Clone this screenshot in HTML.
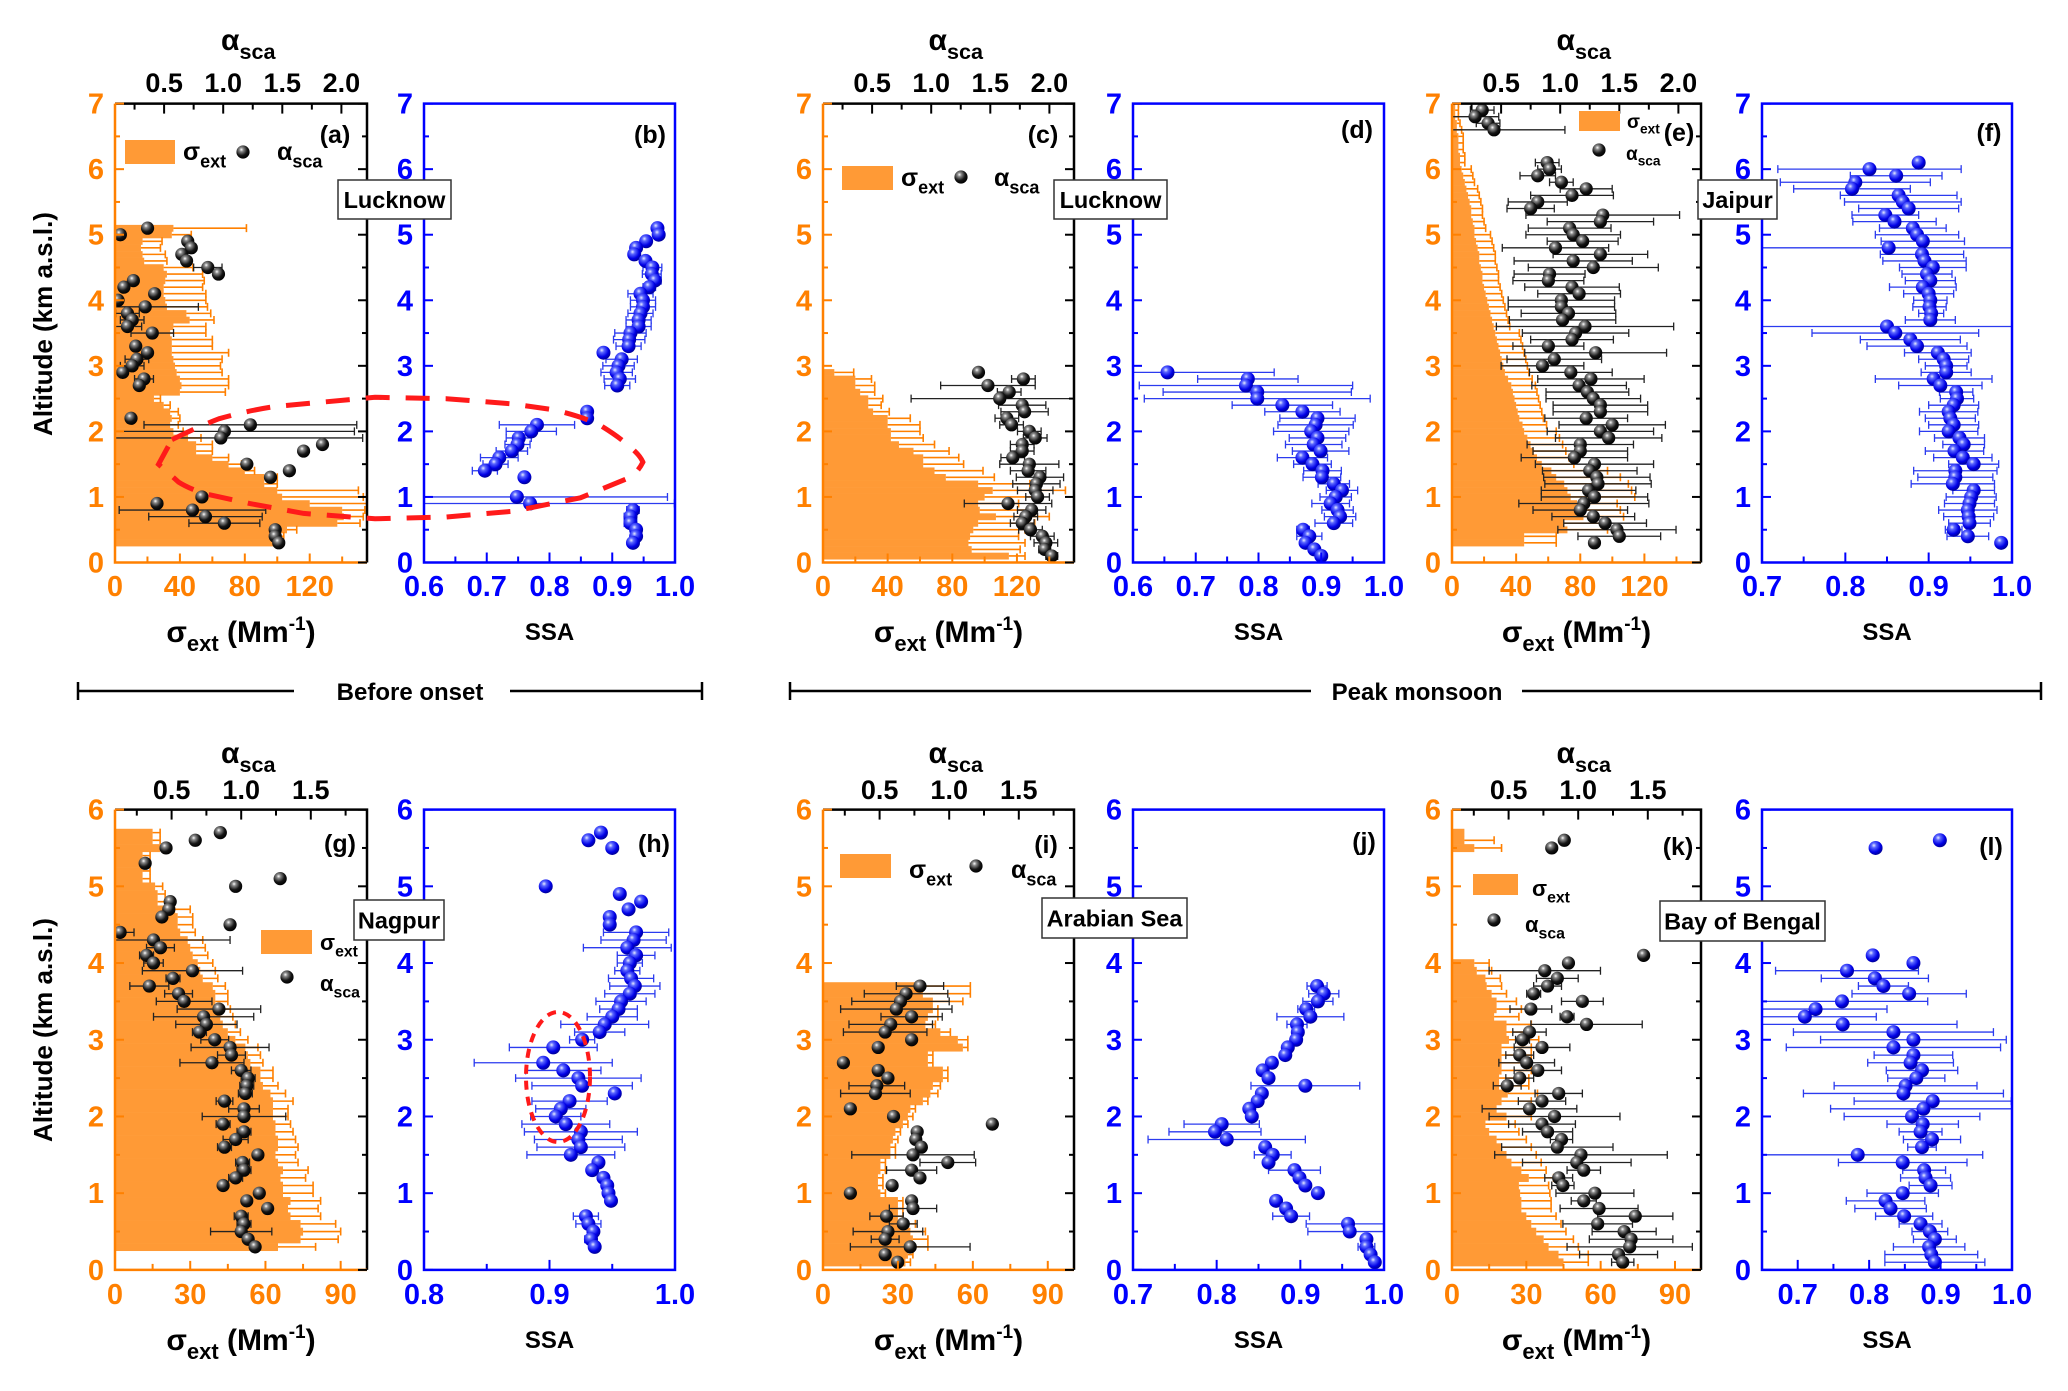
<!DOCTYPE html>
<html><head><meta charset="utf-8"><title>Vertical profiles of aerosol extinction, Ångström exponent and SSA</title>
<style>
html,body{margin:0;padding:0;background:#fff;}
svg{display:block;font-family:"Liberation Sans",Arial,sans-serif;}
</style></head>
<body>
<svg id="fig" xmlns="http://www.w3.org/2000/svg" width="2068" height="1391" viewBox="0 0 2068 1391">
<defs>
<radialGradient id="gk" cx="0.38" cy="0.32" r="0.68"><stop offset="0" stop-color="#ffffff"/><stop offset="0.22" stop-color="#8a8a8a"/><stop offset="0.65" stop-color="#151515"/><stop offset="1" stop-color="#000"/></radialGradient>
<radialGradient id="gb" cx="0.38" cy="0.32" r="0.68"><stop offset="0" stop-color="#e8ecff"/><stop offset="0.25" stop-color="#5a66ff"/><stop offset="0.7" stop-color="#0000e6"/><stop offset="1" stop-color="#00009a"/></radialGradient>
</defs>
<rect x="0" y="0" width="2068" height="1391" fill="#fff"/>
</svg>
<script>
// ---------- tick labels ----------
const sigTicksTop = [0, 40, 80, 120];
const sigTicksBot = [0, 30, 60, 90];
const alphaTicksTop = [0.5, 1.0, 1.5, 2.0];
const alphaTicksBot = [0.5, 1.0, 1.5];
const ssaTicksBD = [0.6, 0.7, 0.8, 0.9, 1.0];
const ssaTicksFJ = [0.7, 0.8, 0.9, 1.0];
const ssaTicksH = [0.8, 0.9, 1.0];
const ssaTicksL = [0.7, 0.8, 0.9, 1.0];
const altTicksTop = [0, 1, 2, 3, 4, 5, 6, 7];
const altTicksBot = [0, 1, 2, 3, 4, 5, 6];

// ---------- data: [altitude km, value, error] ----------
const sigA = [[0.3,98,5],[0.4,99,5],[0.5,106,6],[0.6,137,14],[0.7,141,12],[0.8,140,14],[0.9,120,40],[1.0,103,50],[1.1,100,50],[1.2,92,8],[1.3,92,8],[1.4,80,6],[1.5,70,8],[1.6,60,10],[1.7,50,10],[1.8,50,10],[1.9,45,8],[2.0,36,6],[2.1,34,5],[2.2,35,5],[2.3,34,5],[2.4,30,4],[2.5,24,4],[2.6,40,28],[2.7,41,29],[2.8,40,30],[2.9,38,28],[3.0,37,28],[3.1,36,30],[3.2,35,35],[3.3,35,25],[3.4,35,25],[3.5,34,22],[3.6,36,20],[3.7,46,15],[3.8,44,15],[3.9,32,25],[4.0,31,25],[4.1,30,26],[4.2,30,24],[4.3,31,24],[4.4,32,22],[4.5,30,18],[4.6,18,14],[4.7,17,14],[4.8,16,12],[4.9,17,12],[5.0,35,12],[5.1,36,45]];
const alphaA = [[5.1,0.36,0],[5.0,0.13,0],[4.9,0.70,0],[4.8,0.73,0],[4.7,0.65,0],[4.6,0.69,0],[4.5,0.87,0.12],[4.4,0.96,0],[4.3,0.24,0],[4.2,0.16,0],[4.1,0.42,0],[4.0,0.11,0],[3.9,0.34,0.45],[3.8,0.19,0.1],[3.7,0.23,0.1],[3.6,0.19,0.12],[3.5,0.40,0.18],[3.3,0.26,0],[3.2,0.36,0],[3.1,0.27,0.1],[3.0,0.23,0.1],[2.9,0.15,0],[2.8,0.33,0.08],[2.7,0.29,0],[2.2,0.22,0],[2.1,1.23,0.9],[2.0,1.01,1.1],[1.9,0.98,1.2],[1.8,1.84,0],[1.7,1.68,0],[1.5,1.20,0],[1.4,1.56,0],[1.3,1.40,0],[1.0,0.82,0],[0.9,0.44,0],[0.8,0.74,0.62],[0.7,0.85,0.48],[0.6,1.01,0.3],[0.5,1.44,0],[0.4,1.44,0],[0.3,1.47,0]];
const ssaB = [[5.1,0.972,0],[5.0,0.974,0],[4.9,0.954,0],[4.8,0.938,0],[4.7,0.935,0],[4.6,0.953,0],[4.5,0.964,0.015],[4.4,0.963,0.015],[4.3,0.968,0.01],[4.2,0.959,0.01],[4.1,0.945,0.02],[4.0,0.949,0.02],[3.9,0.949,0.02],[3.8,0.945,0.02],[3.7,0.942,0.02],[3.6,0.942,0.02],[3.5,0.929,0.025],[3.4,0.927,0.025],[3.3,0.926,0.02],[3.2,0.886,0],[3.1,0.915,0.025],[3.0,0.910,0.025],[2.9,0.907,0.025],[2.8,0.912,0.025],[2.7,0.908,0.02],[2.3,0.860,0],[2.2,0.860,0],[2.1,0.780,0.06],[2.0,0.771,0.04],[1.9,0.751,0.02],[1.8,0.749,0.02],[1.7,0.740,0.025],[1.6,0.720,0.03],[1.5,0.714,0.02],[1.4,0.697,0.02],[1.3,0.760,0],[1.0,0.748,0.24],[0.9,0.769,0.23],[0.8,0.933,0.01],[0.7,0.929,0.01],[0.6,0.929,0.01],[0.5,0.938,0],[0.4,0.938,0],[0.3,0.933,0]];

const sigC = [[0.1,115,10],[0.2,92,30],[0.3,90,35],[0.4,91,30],[0.5,93,32],[0.6,96,35],[0.7,107,33],[0.8,97,30],[0.9,96,25],[1.0,100,35],[1.1,105,45],[1.2,96,32],[1.3,76,30],[1.4,69,30],[1.5,62,25],[1.6,62,22],[1.7,56,22],[1.8,47,22],[1.9,42,20],[2.0,42,18],[2.1,40,20],[2.2,40,14],[2.3,31,10],[2.4,28,8],[2.5,28,9],[2.6,23,9],[2.7,20,12],[2.8,20,10],[2.9,7,12]];
const alphaC = [[2.9,1.40,0],[2.8,1.78,0.1],[2.7,1.48,0.4],[2.6,1.66,0.1],[2.5,1.58,0.75],[2.4,1.77,0.2],[2.3,1.79,0.2],[2.2,1.64,0.1],[2.1,1.68,0.1],[2.0,1.83,0.1],[1.9,1.88,0.1],[1.8,1.77,0.1],[1.7,1.77,0.1],[1.6,1.69,0.1],[1.5,1.83,0.25],[1.4,1.82,0.15],[1.3,1.92,0.2],[1.2,1.89,0.2],[1.1,1.88,0.15],[1.0,1.90,0.1],[0.9,1.65,0.37],[0.8,1.85,0.12],[0.7,1.80,0.1],[0.6,1.77,0.1],[0.5,1.84,0.1],[0.4,1.94,0.1],[0.3,1.97,0.1],[0.2,1.96,0.05],[0.1,2.02,0.05]];
const ssaD = [[2.9,0.655,0.17],[2.8,0.783,0.08],[2.7,0.780,0.17],[2.6,0.798,0.15],[2.5,0.798,0.18],[2.4,0.838,0.08],[2.3,0.870,0.06],[2.2,0.894,0.06],[2.1,0.891,0.06],[2.0,0.884,0.06],[1.9,0.894,0.045],[1.8,0.888,0.045],[1.7,0.899,0.045],[1.6,0.870,0.04],[1.5,0.886,0.03],[1.4,0.902,0.03],[1.3,0.901,0.03],[1.2,0.920,0.025],[1.1,0.933,0.025],[1.0,0.923,0.025],[0.9,0.915,0.03],[0.8,0.926,0.025],[0.7,0.930,0.025],[0.6,0.920,0.03],[0.5,0.871,0.01],[0.4,0.881,0.02],[0.3,0.875,0],[0.2,0.889,0],[0.1,0.900,0]];

const sigE = [[0.3,45,20],[0.4,45,20],[0.5,72,25],[0.6,70,25],[0.7,82,25],[0.8,80,25],[0.9,78,25],[1.0,74,40],[1.1,72,40],[1.2,70,40],[1.3,65,40],[1.4,62,35],[1.5,56,20],[1.6,53,20],[1.7,51,20],[1.8,49,20],[1.9,47,20],[2.0,45,20],[2.1,44,15],[2.2,42,15],[2.3,41,15],[2.4,40,15],[2.5,39,15],[2.6,38,15],[2.7,37,15],[2.8,35,15],[2.9,33,15],[3.0,32,15],[3.1,31,15],[3.2,30,15],[3.3,29,15],[3.4,28,15],[3.5,27,15],[3.6,26,10],[3.7,25,10],[3.8,24,10],[3.9,23,10],[4.0,22,10],[4.1,21,10],[4.2,20,10],[4.3,19,10],[4.4,19,10],[4.5,18,10],[4.6,17,10],[4.7,17,10],[4.8,16,10],[4.9,15,10],[5.0,14,10],[5.1,14,7],[5.2,13,7],[5.3,12,7],[5.4,12,7],[5.5,11,7],[5.6,10,7],[5.7,9,7],[5.8,8,6],[5.9,7,6],[6.0,6,6],[6.1,5,3],[6.2,5,3],[6.3,4,3],[6.4,4,3],[6.5,4,3],[6.6,3,3],[6.7,3,2],[6.8,2,2],[6.9,2,2],[7.0,2,2]];
const alphaE = [[6.9,0.34,0.1],[6.8,0.28,0.2],[6.7,0.39,0.1],[6.6,0.44,0.6],[6.1,0.89,0.1],[6.0,0.91,0.1],[5.9,0.81,0.15],[5.8,1.01,0.1],[5.7,1.22,0.22],[5.6,1.10,0.35],[5.5,0.81,0.25],[5.4,0.75,0.2],[5.3,1.36,0.65],[5.2,1.34,0.45],[5.1,1.08,0.35],[5.0,1.11,0.4],[4.9,1.19,0.3],[4.8,0.96,0.45],[4.7,1.34,0.4],[4.6,1.11,0.5],[4.5,1.28,0.55],[4.4,0.91,0.3],[4.3,0.90,0.3],[4.2,1.10,0.4],[4.1,1.16,0.35],[4.0,1.01,0.45],[3.9,1.01,0.45],[3.8,1.07,0.4],[3.7,1.02,0.45],[3.6,1.21,0.75],[3.5,1.13,0.45],[3.4,1.10,0.35],[3.3,0.90,0.3],[3.2,1.30,0.6],[3.1,0.95,0.4],[3.0,0.85,0.35],[2.9,1.09,0.35],[2.8,1.26,0.45],[2.7,1.16,0.4],[2.6,1.23,0.35],[2.5,1.28,0.4],[2.4,1.34,0.4],[2.3,1.34,0.4],[2.2,1.22,0.35],[2.1,1.44,0.45],[2.0,1.34,0.45],[1.9,1.41,0.45],[1.8,1.17,0.45],[1.7,1.17,0.4],[1.6,1.12,0.45],[1.5,1.29,0.5],[1.4,1.25,0.4],[1.3,1.31,0.45],[1.2,1.32,0.45],[1.1,1.24,0.4],[1.0,1.29,0.45],[0.9,1.20,0.55],[0.8,1.17,0.4],[0.7,1.28,0.35],[0.6,1.38,0.35],[0.5,1.48,0.5],[0.4,1.50,0.35],[0.3,1.29,0]];
const ssaF = [[6.1,0.888,0],[6.0,0.829,0.11],[5.9,0.861,0.055],[5.8,0.812,0.09],[5.7,0.808,0.07],[5.6,0.864,0.07],[5.5,0.869,0.07],[5.4,0.876,0.06],[5.3,0.848,0.04],[5.2,0.859,0.05],[5.1,0.881,0.04],[5.0,0.886,0.05],[4.9,0.893,0.05],[4.8,0.852,0.3],[4.7,0.892,0.05],[4.6,0.895,0.05],[4.5,0.905,0.04],[4.4,0.898,0.03],[4.3,0.902,0.03],[4.2,0.893,0.04],[4.1,0.900,0.03],[4.0,0.902,0.02],[3.9,0.901,0.02],[3.8,0.903,0.015],[3.7,0.902,0.03],[3.6,0.850,0.3],[3.5,0.860,0.1],[3.4,0.878,0.06],[3.3,0.886,0.06],[3.2,0.911,0.04],[3.1,0.918,0.03],[3.0,0.921,0.025],[2.9,0.921,0.03],[2.8,0.906,0.07],[2.7,0.914,0.05],[2.6,0.933,0.02],[2.5,0.934,0.02],[2.4,0.930,0.03],[2.3,0.924,0.035],[2.2,0.926,0.03],[2.1,0.930,0.03],[2.0,0.924,0.035],[1.9,0.937,0.03],[1.8,0.942,0.025],[1.7,0.931,0.035],[1.6,0.941,0.035],[1.5,0.954,0.03],[1.4,0.932,0.05],[1.3,0.932,0.045],[1.2,0.929,0.05],[1.1,0.954,0.025],[1.0,0.951,0.03],[0.9,0.949,0.03],[0.8,0.947,0.035],[0.7,0.948,0.03],[0.6,0.949,0.025],[0.5,0.930,0.01],[0.4,0.947,0.025],[0.3,0.987,0]];

const sigG = [[0.3,65,15],[0.4,74,15],[0.5,75,15],[0.6,74,14],[0.7,70,12],[0.8,69,12],[0.9,70,12],[1.0,67,12],[1.1,67,12],[1.2,66,10],[1.3,67,10],[1.4,65,8],[1.5,64,8],[1.6,65,8],[1.7,65,7],[1.8,64,7],[1.9,64,6],[2.0,63,6],[2.1,63,6],[2.2,63,8],[2.3,62,6],[2.4,59,6],[2.5,58,5],[2.6,58,5],[2.7,54,5],[2.8,53,5],[2.9,52,5],[3.0,48,5],[3.1,45,5],[3.2,43,5],[3.3,42,5],[3.4,41,5],[3.5,40,5],[3.6,40,5],[3.7,39,5],[3.8,35,6],[3.9,34,6],[4.0,33,6],[4.1,31,6],[4.2,30,6],[4.3,29,6],[4.4,26,6],[4.5,25,6],[4.6,25,6],[4.7,24,6],[4.8,17,3],[4.9,17,3],[5.0,16,3],[5.1,11,3],[5.2,11,3],[5.3,10,3],[5.4,11,3],[5.5,18,3],[5.6,15,3],[5.7,15,3]];
const alphaG = [[5.7,0.85,0],[5.6,0.67,0],[5.5,0.46,0],[5.3,0.31,0],[5.1,1.28,0],[5.0,0.96,0],[4.8,0.49,0],[4.7,0.48,0],[4.6,0.43,0],[4.5,0.92,0],[4.4,0.13,0.1],[4.3,0.37,0.55],[4.2,0.42,0.1],[4.1,0.32,0.05],[4.0,0.37,0.07],[3.9,0.65,0.36],[3.8,0.51,0.05],[3.7,0.34,0.14],[3.6,0.55,0.1],[3.5,0.59,0.2],[3.4,0.84,0.3],[3.3,0.73,0.36],[3.2,0.75,0.22],[3.1,0.70,0.05],[3.0,0.81,0.1],[2.9,0.92,0.28],[2.8,0.93,0.1],[2.7,0.79,0.23],[2.6,1.00,0.07],[2.5,1.05,0.05],[2.4,1.04,0.05],[2.3,1.03,0.05],[2.2,0.88,0.06],[2.1,1.02,0.11],[2.0,1.02,0.3],[1.9,0.87,0.05],[1.8,1.02,0.05],[1.7,0.96,0.09],[1.6,0.88,0.05],[1.5,1.12,0],[1.4,1.01,0.05],[1.3,1.02,0.05],[1.2,0.96,0.05],[1.1,0.87,0],[1.0,1.13,0],[0.9,1.04,0],[0.8,1.19,0],[0.7,1.00,0.05],[0.6,1.02,0.05],[0.5,1.00,0.22],[0.4,1.05,0],[0.3,1.10,0]];
const ssaH = [[5.7,0.941,0],[5.6,0.931,0],[5.5,0.950,0],[5.0,0.897,0],[4.9,0.956,0],[4.8,0.973,0],[4.7,0.963,0],[4.6,0.948,0],[4.5,0.948,0],[4.4,0.969,0.026],[4.3,0.967,0.026],[4.2,0.962,0.035],[4.1,0.969,0.015],[4.0,0.964,0.01],[3.9,0.962,0.01],[3.8,0.965,0.018],[3.7,0.968,0.02],[3.6,0.964,0.02],[3.5,0.957,0.02],[3.4,0.955,0.015],[3.3,0.950,0.02],[3.2,0.944,0.035],[3.1,0.940,0.02],[3.0,0.926,0.01],[2.9,0.903,0.035],[2.7,0.895,0.055],[2.6,0.911,0.03],[2.5,0.923,0.05],[2.4,0.926,0.04],[2.3,0.952,0],[2.2,0.916,0.03],[2.1,0.909,0.02],[2.0,0.905,0.02],[1.9,0.913,0.035],[1.8,0.925,0.045],[1.7,0.923,0.035],[1.6,0.925,0.035],[1.5,0.917,0.035],[1.4,0.939,0],[1.3,0.934,0],[1.2,0.943,0],[1.1,0.946,0],[1.0,0.947,0],[0.9,0.949,0],[0.7,0.929,0.01],[0.6,0.931,0.01],[0.5,0.935,0],[0.4,0.933,0.005],[0.3,0.936,0]];

const sigI = [[0.1,33,2],[0.2,34,2],[0.3,36,6],[0.4,36,6],[0.5,35,6],[0.6,31,6],[0.7,30,2],[0.8,30,2],[0.9,30,2],[1.0,23,2],[1.1,22,2],[1.2,22,2],[1.3,23,2],[1.4,23,2],[1.5,27,2],[1.6,27,2],[1.7,28,2],[1.8,29,2],[1.9,32,2],[2.0,34,2],[2.1,35,2],[2.2,40,2],[2.3,43,3],[2.4,44,3],[2.5,48,2],[2.6,48,2],[2.7,42,2],[2.8,42,2],[2.9,56,2],[3.0,54,4],[3.1,47,4],[3.2,41,4],[3.3,42,4],[3.4,44,2],[3.5,44,12],[3.6,40,19],[3.7,40,19]];
const alphaI = [[3.7,0.79,0.17],[3.6,0.69,0.3],[3.5,0.65,0.35],[3.4,0.62,0.4],[3.3,0.73,0.22],[3.2,0.58,0.3],[3.1,0.54,0.3],[3.0,0.73,0],[2.9,0.49,0],[2.7,0.24,0],[2.6,0.49,0],[2.5,0.56,0],[2.4,0.48,0.2],[2.3,0.47,0.25],[2.1,0.29,0],[2.0,0.60,0],[1.9,1.31,0],[1.8,0.77,0],[1.7,0.76,0],[1.6,0.80,0],[1.5,0.74,0.44],[1.4,0.99,0.2],[1.3,0.73,0.18],[1.2,0.79,0],[1.1,0.59,0],[1.0,0.29,0],[0.9,0.73,0],[0.8,0.74,0.17],[0.7,0.55,0.12],[0.6,0.67,0.1],[0.5,0.56,0.25],[0.4,0.54,0.1],[0.3,0.72,0.43],[0.2,0.54,0],[0.1,0.63,0]];
const ssaJ = [[3.7,0.920,0.012],[3.6,0.928,0.018],[3.5,0.921,0.018],[3.4,0.907,0.01],[3.3,0.912,0.04],[3.2,0.896,0.012],[3.1,0.897,0],[3.0,0.895,0],[2.9,0.885,0],[2.8,0.882,0],[2.7,0.866,0],[2.6,0.855,0],[2.5,0.862,0],[2.4,0.906,0.065],[2.3,0.854,0],[2.2,0.849,0],[2.1,0.839,0],[2.0,0.842,0],[1.9,0.806,0.045],[1.8,0.798,0.055],[1.7,0.812,0.094],[1.6,0.858,0],[1.5,0.867,0.022],[1.4,0.862,0],[1.3,0.893,0.031],[1.2,0.899,0],[1.1,0.906,0],[1.0,0.921,0],[0.9,0.871,0],[0.8,0.883,0],[0.7,0.889,0.022],[0.6,0.957,0.05],[0.5,0.959,0.05],[0.4,0.979,0],[0.3,0.979,0.01],[0.2,0.984,0],[0.1,0.989,0]];

const sigK = [[0.1,45,10],[0.2,43,12],[0.3,39,12],[0.4,37,12],[0.5,34,12],[0.6,32,12],[0.7,30,12],[0.8,28,12],[0.9,28,12],[1.0,27.5,12],[1.1,27,12],[1.2,31,10],[1.3,28,10],[1.4,24,12],[1.5,22,12],[1.6,20,12],[1.7,18,12],[1.8,15,12],[1.9,13.5,12],[2.0,22,10],[2.1,18,12],[2.2,20,12],[2.3,22.5,12],[2.4,19,12],[2.5,19,12],[2.6,20,12],[2.7,20,12],[2.8,20,12],[2.9,20,12],[3.0,23,12],[3.1,22,10],[3.2,22,10],[3.3,17,10],[3.4,18,10],[3.5,18,8],[3.6,16,6],[3.7,14,6],[3.8,13.5,6],[3.9,10,6],[4.0,9,6],[5.5,9,11],[5.6,5,12],[5.7,5,0]];
const alphaK = [[5.6,0.90,0],[5.5,0.81,0],[4.1,1.47,0],[4.0,0.93,0],[3.9,0.76,0.4],[3.8,0.85,0.15],[3.7,0.78,0.1],[3.6,0.68,0.05],[3.5,1.03,0.15],[3.4,0.66,0.15],[3.3,0.92,0.05],[3.2,1.06,0.4],[3.1,0.65,0.12],[3.0,0.60,0.05],[2.9,0.74,0.2],[2.8,0.58,0.1],[2.7,0.63,0.2],[2.6,0.71,0.17],[2.5,0.58,0.1],[2.4,0.49,0.1],[2.3,0.86,0.17],[2.2,0.74,0.17],[2.1,0.65,0.34],[2.0,0.83,0.47],[1.9,0.74,0.24],[1.8,0.78,0.18],[1.7,0.88,0.08],[1.6,0.85,0.4],[1.5,1.02,0.62],[1.4,0.99,0.39],[1.3,1.04,0.12],[1.2,0.86,0.1],[1.1,0.89,0.08],[1.0,1.12,0.28],[0.9,1.04,0.09],[0.8,1.15,0.28],[0.7,1.41,0.27],[0.6,1.14,0.25],[0.5,1.33,0.23],[0.4,1.38,0.3],[0.3,1.37,0.45],[0.2,1.29,0.28],[0.1,1.32,0.08]];
const ssaL = [[5.6,0.899,0],[5.5,0.809,0],[4.1,0.805,0],[4.0,0.862,0],[3.9,0.769,0.1],[3.8,0.808,0.075],[3.7,0.820,0.035],[3.6,0.856,0.08],[3.5,0.762,0.12],[3.4,0.725,0.1],[3.3,0.710,0.1],[3.2,0.763,0.16],[3.1,0.834,0.14],[3.0,0.862,0.13],[2.9,0.834,0.15],[2.8,0.862,0.055],[2.7,0.858,0.06],[2.6,0.874,0.05],[2.5,0.866,0.04],[2.4,0.851,0.1],[2.3,0.848,0.14],[2.2,0.889,0.11],[2.1,0.876,0.13],[2.0,0.860,0.095],[1.9,0.875,0.05],[1.8,0.872,0.03],[1.7,0.888,0.04],[1.6,0.874,0.02],[1.5,0.784,0.175],[1.4,0.847,0.09],[1.3,0.877,0.03],[1.2,0.879,0.035],[1.1,0.886,0.03],[1.0,0.847,0.05],[0.9,0.823,0.055],[0.8,0.830,0.05],[0.7,0.849,0.04],[0.6,0.872,0.03],[0.5,0.885,0.025],[0.4,0.892,0.03],[0.3,0.884,0.05],[0.2,0.887,0.065],[0.1,0.892,0.07]];

// ---------- drawing ----------
const NS = "http://www.w3.org/2000/svg";
const svg = document.getElementById('fig');
const ORANGE = '#ff8000', BAR = '#ff9a36', BLUE = '#0000ff', EBLUE = '#2b3bef';
function mk(tag, attrs, parent) {
  const e = document.createElementNS(NS, tag);
  for (const k in attrs) e.setAttribute(k, attrs[k]);
  (parent || svg).appendChild(e);
  return e;
}
const rows = [{y0: 562.5, y1: 103.6, ymax: 7, ticks: altTicksTop, labY: 596, titleY: 642, aLabY: 92, aTitleY: 50},
              {y0: 1269.9, y1: 809.6, ymax: 6, ticks: altTicksBot, labY: 1304, titleY: 1350, aLabY: 799, aTitleY: 763}];
function yScale(r) { return a => r.y0 - (r.y0 - r.y1) * a / r.ymax; }
function linScale(d0, d1, r0, r1) { return v => r0 + (v - d0) * (r1 - r0) / (d1 - d0); }
let clipN = 0;

function text(str, x, y, opts, parent) {
  const t = mk('text', {x: x, y: y, 'font-size': opts.size || 27, 'font-weight': 'bold', fill: opts.fill || '#000', 'text-anchor': opts.anchor || 'middle'}, parent);
  t.textContent = str;
  return t;
}
function subText(main, sub, x, y, size, fill, parent, anchor) {
  const t = mk('text', {x: x, y: y, 'font-size': size, 'font-weight': 'bold', fill: fill || '#000', 'text-anchor': anchor || 'start'}, parent);
  const s1 = mk('tspan', {}, t); s1.textContent = main;
  const s2 = mk('tspan', {dy: size * 0.3, 'font-size': size * 0.72}, t); s2.textContent = sub;
  return t;
}
function tick(g, x1, y1, x2, y2, col) {
  const l = mk('line', {x1: x1, y1: y1, x2: x2, y2: y2, stroke: col, 'stroke-width': 2}, g);
  
  
}

function drawLeftY(g, x0, x1, r, col, rightCol) {
  const Y = yScale(r);
  for (let v = 0; v <= r.ymax + 1e-6; v += 0.5) {
    const major = Math.abs(v - Math.round(v)) < 1e-6;
    tick(g, x0, Y(v), x0 + (major ? 9 : 5), Y(v), col);
    if (rightCol) tick(g, x1, Y(v), x1 - (major ? 9 : 5), Y(v), rightCol);
  }
  r.ticks.forEach(v => {
    const t = text(String(v), x0 - 11, Y(v) + 10, {fill: col, anchor: 'end', size: 29}, g);
    
    
  });
}

function sigmaPanel(id, x0, x1, rowIdx, bars, alphas, letter) {
  const r = rows[rowIdx];
  const Y = yScale(r);
  const xmax = rowIdx === 0 ? 155.3 : 100.5;
  const S = linScale(0, xmax, x0, x1);
  const aOff = rowIdx === 0 ? 10 : 13, aK = rowIdx === 0 ? 118.2 : 139.2;
  const A = v => x0 - aOff + aK * v;
  const g = mk('g', {});
  
  
  const cid = 'clip' + (clipN++);
  const cp = mk('clipPath', {id: cid}, g);
  mk('rect', {x: x0, y: r.y1, width: x1 - x0, height: r.y0 - r.y1}, cp);
  const plot = mk('g', {'clip-path': 'url(#' + cid + ')'}, g);
  const h = (r.y0 - r.y1) / r.ymax * 0.1;
  bars.forEach(b => {
    const rect = mk('rect', {x: x0, y: Y(b[0] + 0.05), width: S(b[1]) - x0, height: h + 0.3, fill: BAR}, plot);
    
    
  });
  bars.forEach(b => {
    if (!b[2]) return;
    const yy = Y(b[0]);
    const e = mk('path', {d: 'M' + S(b[1]) + ' ' + yy + 'H' + S(b[1] + b[2]) + 'M' + S(b[1] + b[2]) + ' ' + (yy - 4) + 'V' + (yy + 4), stroke: ORANGE, 'stroke-width': 1.6, fill: 'none'}, plot);
    
    
  });
  alphas.forEach(p => {
    if (!p[2]) return;
    const yy = Y(p[0]), xa = A(p[1] - p[2]), xb = A(p[1] + p[2]);
    const e = mk('path', {d: 'M' + xa + ' ' + yy + 'H' + xb + 'M' + xa + ' ' + (yy - 4) + 'V' + (yy + 4) + 'M' + xb + ' ' + (yy - 4) + 'V' + (yy + 4), stroke: '#222', 'stroke-width': 1.3, fill: 'none'}, plot);
    
    
  });
  alphas.forEach(p => {
    const c = mk('circle', {cx: A(p[1]), cy: Y(p[0]), r: 6.6, fill: 'url(#gk)'}, plot);
    
    
  });
  const fr = mk('path', {d: 'M' + x0 + ' ' + r.y1 + 'H' + x1 + 'V' + r.y0, stroke: '#000', 'stroke-width': 2.5, fill: 'none'}, g);
  
  
  const fl = mk('path', {d: 'M' + x0 + ' ' + r.y1 + 'V' + r.y0 + 'H' + x1, stroke: ORANGE, 'stroke-width': 2.5, fill: 'none'}, g);
  
  
  drawLeftY(g, x0, x1, r, ORANGE, '#000');
  const step = rowIdx === 0 ? 20 : 15;
  for (let v = 0; v <= xmax; v += step) tick(g, S(v), r.y0, S(v), r.y0 - ((v / step) % 2 === 0 ? 9 : 6), ORANGE);
  (rowIdx === 0 ? sigTicksTop : sigTicksBot).forEach(v => {
    const t = text(String(v), S(v), r.labY, {fill: ORANGE, size: 29}, g);
    
    
  });
  for (let v = 0.25; A(v) <= x1 + 0.5; v += 0.25) tick(g, A(v), r.y1, A(v), r.y1 + (Math.abs(v * 2 - Math.round(v * 2)) < 1e-6 ? 10 : 6), '#000');
  (rowIdx === 0 ? alphaTicksTop : alphaTicksBot).forEach(v => {
    const t = text(v.toFixed(1), A(v), r.aLabY, {size: 27}, g);
    
    
  });
  const cx = (x0 + x1) / 2;
  const at = subText('α', 'sca', cx - 20, r.aTitleY, 30, '#000', g);
  
  
  const xt = mk('text', {x: cx, y: r.titleY, 'font-size': 30, 'font-weight': 'bold', 'text-anchor': 'middle'}, g);
  
  
  const a1 = mk('tspan', {}, xt); a1.textContent = 'σ';
  const a2 = mk('tspan', {dy: 9, 'font-size': 22}, xt); a2.textContent = 'ext';
  const a3 = mk('tspan', {dy: -9}, xt); a3.textContent = ' (Mm';
  const a4 = mk('tspan', {dy: -12, 'font-size': 19}, xt); a4.textContent = '-1';
  const a5 = mk('tspan', {dy: 12}, xt); a5.textContent = ')';
  return g;
}

function ssaPanel(x0, x1, rowIdx, d0, pts, ticks, letter, minorStart) {
  const r = rows[rowIdx];
  const Y = yScale(r);
  const X = linScale(d0, 1.0, x0, x1);
  const g = mk('g', {});
  
  
  const cid = 'clip' + (clipN++);
  const cp = mk('clipPath', {id: cid}, g);
  mk('rect', {x: x0, y: r.y1, width: x1 - x0, height: r.y0 - r.y1}, cp);
  const plot = mk('g', {'clip-path': 'url(#' + cid + ')'}, g);
  pts.forEach(p => {
    if (!p[2]) return;
    const yy = Y(p[0]), xa = X(p[1] - p[2]), xb = X(p[1] + p[2]);
    const e = mk('path', {d: 'M' + xa + ' ' + yy + 'H' + xb + 'M' + xa + ' ' + (yy - 4) + 'V' + (yy + 4) + 'M' + xb + ' ' + (yy - 4) + 'V' + (yy + 4), stroke: EBLUE, 'stroke-width': 1.3, fill: 'none'}, plot);
    
    
  });
  pts.forEach(p => {
    const c = mk('circle', {cx: X(p[1]), cy: Y(p[0]), r: 7, fill: 'url(#gb)'}, plot);
    
    
  });
  const fr = mk('rect', {x: x0, y: r.y1, width: x1 - x0, height: r.y0 - r.y1, stroke: BLUE, 'stroke-width': 2.5, fill: 'none'}, g);
  
  
  drawLeftY(g, x0, x1, r, BLUE, null);
  for (let v = minorStart; v <= 1.0001; v += 0.05) {
    const major = Math.abs(v * 10 - Math.round(v * 10)) < 1e-6;
    tick(g, X(v), r.y0, X(v), r.y0 - (major ? 10 : 6), BLUE);
  }
  ticks.forEach(v => {
    const t = text(v.toFixed(1), X(v), r.labY, {fill: BLUE, size: 29}, g);
    
    
  });
  const xt = text('SSA', (x0 + x1) / 2, r.titleY - 2, {size: 24}, g);
  
  
  return g;
}

sigmaPanel('a', 115, 367, 0, sigA, alphaA, 'a');
ssaPanel(424, 675, 0, 0.6, ssaB, ssaTicksBD, 'b', 0.6);
sigmaPanel('c', 823, 1074, 0, sigC, alphaC, 'c');
ssaPanel(1133, 1384, 0, 0.6, ssaD, ssaTicksBD, 'd', 0.6);
sigmaPanel('e', 1452, 1701, 0, sigE, alphaE, 'e');
ssaPanel(1762, 2012, 0, 0.7, ssaF, ssaTicksFJ, 'f', 0.7);
sigmaPanel('g', 115, 367, 1, sigG, alphaG, 'g');
ssaPanel(424, 675, 1, 0.8, ssaH, ssaTicksH, 'h', 0.8);
sigmaPanel('i', 823, 1074, 1, sigI, alphaI, 'i');
ssaPanel(1133, 1384, 1, 0.7, ssaJ, ssaTicksFJ, 'j', 0.7);
sigmaPanel('k', 1452, 1701, 1, sigK, alphaK, 'k');
ssaPanel(1762, 2012, 1, 0.65, ssaL, ssaTicksL, 'l', 0.65);

[['(a)',335,143],['(b)',650,143],['(c)',1043,143],['(d)',1357,138],['(e)',1679,141],['(f)',1989,141],
 ['(g)',340,852],['(h)',654,852],['(i)',1046,853],['(j)',1364,850],['(k)',1678,855],['(l)',1991,855]].forEach(p => {
  const t = text(p[0], p[1], p[2], {size: 25});
  
  
});

[['Lucknow',338,180,113,39],['Lucknow',1054,180,113,39],['Jaipur',1698,180,79,39],
 ['Nagpur',354,900,90,40],['Arabian Sea',1042,898,145,40],['Bay of Bengal',1660,901,165,40]].forEach(b => {
  const rr = mk('rect', {x: b[1], y: b[2], width: b[3], height: b[4], fill: '#fff', stroke: '#333', 'stroke-width': 1.5});
  
  
  const t = text(b[0], b[1] + b[3] / 2, b[2] + b[4] / 2 + 8.5, {size: 23.5});
  
  
});

function legend(rx, ry, rw, rh, sx, sy, dx, dy, ax, ay, size) {
  const r = mk('rect', {x: rx, y: ry, width: rw, height: rh, fill: BAR});
  
  
  const t1 = subText('σ', 'ext', sx, sy, size, '#000', svg);
  
  
  const c = mk('circle', {cx: dx, cy: dy, r: 6.6, fill: 'url(#gk)'});
  
  
  const t2 = subText('α', 'sca', ax, ay, size, '#000', svg);
  
  
}
legend(125, 140, 50, 24, 183, 160, 243, 152, 277, 160, 25);
legend(842, 166, 51, 24, 901, 186, 961, 177, 994, 186, 25);
legend(1579, 111, 41, 20, 1627, 128, 1599, 150, 1626, 160, 19);
legend(261, 930, 51, 24, 320, 950, 287, 977, 320, 991, 22);
legend(840, 854, 51, 24, 909, 878, 976, 866, 1011, 878, 25);
legend(1473, 874, 45, 21, 1532, 896, 1494, 920, 1525, 932, 22);

[[43, 324], [43, 1030]].forEach(p => {
  const t = mk('text', {x: p[0], y: p[1], 'font-size': 26, 'font-weight': 'bold', 'text-anchor': 'middle', transform: 'rotate(-90 ' + p[0] + ' ' + p[1] + ')', dy: 9});
  t.textContent = 'Altitude (km a.s.l.)';
  
  
});

function bracket(xa, gapA, gapB, xb, y, label, lx) {
  const p = mk('path', {d: 'M' + xa + ' ' + y + 'H' + gapA + 'M' + gapB + ' ' + y + 'H' + xb + 'M' + xa + ' ' + (y - 9) + 'V' + (y + 9) + 'M' + xb + ' ' + (y - 9) + 'V' + (y + 9), stroke: '#000', 'stroke-width': 2.5, fill: 'none'});
  
  
  const t = text(label, lx, y + 9, {size: 24});
  
  
}
bracket(78, 294, 510, 702, 691, 'Before onset', 410);
bracket(790, 1311, 1522, 2041, 691, 'Peak monsoon', 1417);

const hl = mk('path', {d: 'M171.9 439.7 Q195 428 218.8 418.8 Q250 410 276.8 406.3 L375 397.3 L446.4 398.7 L513.4 404 L553.6 409.8 Q580 416 598.2 424.1 Q618 436 629.5 446.4 Q640 455 642.9 462.1 Q638 472 629.5 477.7 L580.4 497.8 L513.4 511.2 L446.4 517 L375 518.8 L303.6 513.4 L250 503.6 L203.1 493.3 Q188 488 178.6 482.1 L158.5 464.3 Z', stroke: '#ff1a1a', 'stroke-width': 5, fill: 'none', 'stroke-dasharray': '24 16'});


const hl2 = mk('ellipse', {cx: 558, cy: 1077, rx: 32, ry: 65, stroke: '#ff1a1a', 'stroke-width': 4, fill: 'none', 'stroke-dasharray': '9 7'});


</script>
</body></html>
